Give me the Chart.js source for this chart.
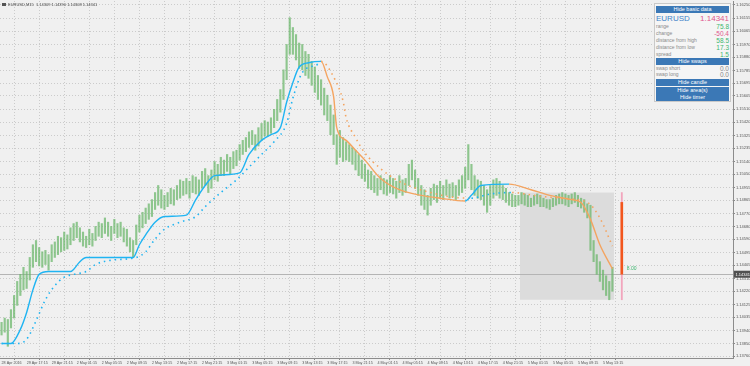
<!DOCTYPE html>
<html>
<head>
<meta charset="utf-8">
<script src="https://cdn.jsdelivr.net/npm/chart.js@4.4.1/dist/chart.umd.min.js"></script>
<style>
  html, body { margin: 0; padding: 0; background: #f0f0f0; }
  #wrap { position: relative; width: 750px; height: 366px; overflow: hidden; font-family: "Liberation Sans", Arial, sans-serif; }
  #chart { position: absolute; left: 0; top: 0; }
  #title { position: absolute; left: 2px; top: 1.5px; font-size: 4px; color: #444; white-space: nowrap; }
  #title b { display: inline-block; width: 4px; height: 3px; background: #555; margin-right: 2px; vertical-align: middle; }
  #panel { position: absolute; left: 654px; top: 3px; width: 77px; height: 99px; box-sizing: border-box; background: #f5f5f5; border: 1px solid #c9c9c9; }
  .btn { position: absolute; left: 1px; width: 73px; height: 7px; background: #3b78b6; color: #fff; font-size: 5.5px; line-height: 7px; text-align: center; }
  .row { position: absolute; left: 1px; width: 73px; height: 7px; font-size: 5px; line-height: 7px; color: #8a8a8a; }
  .row span { position: absolute; right: 0; top: 0; font-size: 6.5px; }
  .big { height: 9px; line-height: 9px; }
  .big em { font-style: normal; font-size: 8px; color: #3f83c9; }
  .big span { font-size: 8px; color: #e0568c; }
  .g { color: #3cb66e; }
  .p { color: #e0568c; }
  .n { color: #888; }
</style>
</head>
<body>
<div id="wrap">
  <canvas id="chart" width="750" height="366"></canvas>
  <div id="title"><b></b>EURUSD,M15&nbsp; 1.14309 1.14390 1.14308 1.14341</div>
  <div id="panel">
    <div class="btn" style="top:2px">Hide basic data</div>
    <div class="row big" style="top:10px"><em>EURUSD</em><span>1.14341</span></div>
    <div class="row" style="top:19px">range<span class="g">75.8</span></div>
    <div class="row" style="top:26px">change<span class="p">-50.4</span></div>
    <div class="row" style="top:33px">distance from high<span class="g">58.5</span></div>
    <div class="row" style="top:40px">distance from low<span class="g">17.3</span></div>
    <div class="row" style="top:47px">spread<span class="g">1.5</span></div>
    <div class="btn" style="top:54px">Hide swaps</div>
    <div class="row" style="top:61px">swap short<span class="n">0.0</span></div>
    <div class="row" style="top:67px">swap long<span class="n">0.0</span></div>
    <div class="btn" style="top:75px">Hide candle</div>
    <div class="btn" style="top:82.5px">Hide area(s)</div>
    <div class="btn" style="top:90px">Hide timer</div>
  </div>
</div>
<script>
// time axis labels, one every 8 bars (each bar here = 30 minutes)
const timeLabels = ['28 Apr 2016', '29 Apr 17:15', '29 Apr 21:15', '2 May 01:15', '2 May 05:15', '2 May 09:15',
  '2 May 13:15', '2 May 17:15', '2 May 21:15', '3 May 01:15', '3 May 05:15', '3 May 09:15', '3 May 13:15',
  '3 May 17:15', '3 May 21:15', '4 May 01:15', '4 May 05:15', '4 May 09:15', '4 May 13:15', '4 May 17:15',
  '4 May 21:15', '5 May 01:15', '5 May 05:15', '5 May 09:15', '5 May 13:15'];
const labelStep = 8;
const slots = 234;

const priceTicks = [1.16250, 1.16155, 1.16065, 1.15970, 1.15880, 1.15785, 1.15695, 1.15605, 1.15510, 1.15420,
  1.15325, 1.15235, 1.15140, 1.15050, 1.14955, 1.14865, 1.14770, 1.14680, 1.14590, 1.14495, 1.14405, 1.14310,
  1.14220, 1.14125, 1.14035, 1.13940, 1.13850, 1.13760];

const highs = [
  1.1400, 1.1403, 1.1402, 1.1409, 1.1419, 1.1429, 1.1434, 1.1439, 1.1436, 1.1446,
  1.1455, 1.1458, 1.1453, 1.1450, 1.1451, 1.1448, 1.1455, 1.1457, 1.1461, 1.1460,
  1.1464, 1.1462,
  1.1467, 1.1470, 1.1471, 1.1467, 1.1464, 1.1461, 1.1466, 1.1463, 1.1468,
  1.1471, 1.1470, 1.1474, 1.1471, 1.1468, 1.1473, 1.1470, 1.1471, 1.1467, 1.1466,
  1.1460, 1.1458, 1.1469, 1.1476, 1.1478, 1.1481, 1.1484, 1.1487, 1.1492, 1.1497,
  1.1494, 1.1490, 1.1492, 1.1495, 1.1494, 1.1497, 1.1501, 1.1500, 1.1502, 1.1500,
  1.1504, 1.1503,
  1.1501, 1.1507, 1.1509, 1.1504, 1.1508, 1.1514, 1.1512, 1.1517, 1.1515,
  1.1519, 1.1517, 1.1521, 1.1522, 1.1526, 1.1529, 1.1531, 1.1535, 1.1536, 1.1533,
  1.1538, 1.1541, 1.1543, 1.1542, 1.1545, 1.1551, 1.1558, 1.1565, 1.1579, 1.1597,
  1.1616, 1.1609, 1.1604, 1.1598, 1.1597, 1.1592, 1.1590, 1.1585, 1.1581, 1.1575,
  1.1572, 1.1566,
  1.1561, 1.1554, 1.1547, 1.1533, 1.1536, 1.1531, 1.1528, 1.1526, 1.1524,
  1.1522, 1.1519, 1.1515, 1.1512, 1.1508, 1.1507, 1.1504, 1.1502, 1.1504, 1.1502,
  1.1501, 1.1504, 1.1502, 1.1500, 1.1504, 1.1501, 1.1502, 1.1512, 1.1515, 1.1508,
  1.1502, 1.1497, 1.1494, 1.1490, 1.1495, 1.1498, 1.1497, 1.1500, 1.1497, 1.1501,
  1.1498, 1.1499,
  1.1497, 1.1501, 1.1504, 1.1510, 1.1526, 1.1512, 1.1504, 1.1501, 1.1500,
  1.1497, 1.1494, 1.1497, 1.1501, 1.1502, 1.1500, 1.1497, 1.1495, 1.1492, 1.1491,
  1.1490, 1.1490, 1.1492, 1.1491, 1.1490, 1.1488, 1.1490, 1.1491, 1.1490, 1.1488,
  1.1487, 1.1487, 1.1488, 1.1490, 1.1491, 1.1492, 1.1491,
  1.1490, 1.1491, 1.1492, 1.1490,
  1.1488, 1.1487, 1.1484, 1.1483, 1.1458, 1.1448, 1.1443, 1.1437, 1.1433, 1.1429, 1.1439
];
const lows = [
  1.1391, 1.1393, 1.1383, 1.1396, 1.1403, 1.1412, 1.1419, 1.1423, 1.1424, 1.1430,
  1.1439, 1.1443, 1.1440, 1.1439, 1.1441, 1.1437, 1.1443, 1.1446, 1.1448, 1.1450,
  1.1451, 1.1452,
  1.1455, 1.1458, 1.1460, 1.1457, 1.1454, 1.1453, 1.1455, 1.1454, 1.1458,
  1.1461, 1.1460, 1.1463, 1.1461, 1.1458, 1.1463, 1.1460, 1.1461, 1.1457, 1.1454,
  1.1450, 1.1446, 1.1455, 1.1464, 1.1467, 1.1470, 1.1473, 1.1475, 1.1480, 1.1483,
  1.1481, 1.1480, 1.1482, 1.1484, 1.1483, 1.1487, 1.1488, 1.1490, 1.1491, 1.1488,
  1.1492, 1.1491,
  1.1490, 1.1495, 1.1497, 1.1492, 1.1495, 1.1501, 1.1500, 1.1504, 1.1504,
  1.1507, 1.1505, 1.1509, 1.1511, 1.1515, 1.1519, 1.1521, 1.1524, 1.1526, 1.1522,
  1.1525, 1.1529, 1.1532, 1.1532, 1.1534, 1.1538, 1.1543, 1.1549, 1.1558, 1.1572,
  1.1590, 1.1590, 1.1586, 1.1580, 1.1579, 1.1575, 1.1573, 1.1568, 1.1563, 1.1558,
  1.1554, 1.1547,
  1.1543, 1.1533, 1.1526, 1.1512, 1.1517, 1.1514, 1.1515, 1.1514, 1.1512,
  1.1508, 1.1504, 1.1502, 1.1500, 1.1495, 1.1494, 1.1492, 1.1490, 1.1494, 1.1491,
  1.1490, 1.1492, 1.1491, 1.1488, 1.1492, 1.1490, 1.1492, 1.1497, 1.1501, 1.1495,
  1.1490, 1.1483, 1.1480, 1.1476, 1.1483, 1.1487, 1.1485, 1.1488, 1.1487, 1.1490,
  1.1488, 1.1489,
  1.1487, 1.1490, 1.1492, 1.1495, 1.1501, 1.1494, 1.1490, 1.1488, 1.1487,
  1.1483, 1.1478, 1.1483, 1.1488, 1.1490, 1.1488, 1.1487, 1.1485, 1.1483, 1.1482,
  1.1482, 1.1483, 1.1484, 1.1483, 1.1482, 1.1482, 1.1483, 1.1484, 1.1482, 1.1482,
  1.1481, 1.1480, 1.1482, 1.1483, 1.1484, 1.1484, 1.1483,
  1.1482, 1.1484, 1.1485, 1.1482,
  1.1481, 1.1478, 1.1474, 1.1451, 1.1443, 1.1434, 1.1429, 1.1423, 1.1419, 1.1416, 1.1422
];
const lastClose = 1.14341;

// smoothed trend line (solid) and its slower twin (dotted): bar index -> price
const fastIdx = [0, 3, 6, 8, 10, 12, 15, 22, 25, 27, 42, 44, 46, 49, 52, 59, 62, 65, 68, 76, 79, 83, 86, 89,
  91, 93, 95, 98, 102, 104, 106, 107, 110, 113, 116, 121, 127, 134, 140, 148, 150, 153, 162, 169, 175, 182,
  185, 188, 191, 195];
const fastVal = [1.1385, 1.1385, 1.1395, 1.1407, 1.1423, 1.1434, 1.1436, 1.1436, 1.1443, 1.1446, 1.1446, 1.1455,
  1.1462, 1.1471, 1.1475, 1.1476, 1.1487, 1.1497, 1.1504, 1.1506, 1.1519, 1.1529, 1.1533, 1.1538,
  1.1556, 1.1570, 1.1581, 1.1584, 1.1585, 1.1574, 1.1560, 1.1538, 1.1529, 1.1522, 1.1515, 1.1502, 1.1494,
  1.1490, 1.1488, 1.1486, 1.1490, 1.1497, 1.1498, 1.1494, 1.1490, 1.1487,
  1.1485, 1.1473, 1.1455, 1.1438];
const slowIdx = [0, 5, 8, 11, 14, 17, 20, 23, 27, 30, 35, 43, 46, 49, 52, 57, 62, 65, 70, 75, 79, 83, 87, 91,
  93, 96, 101, 102, 106, 109, 110, 113, 116, 121, 126, 131, 137, 143, 150, 156, 163, 170, 178, 187, 191, 195];
const slowVal = [1.1385, 1.1385, 1.1388, 1.1401, 1.1416, 1.1426, 1.1432, 1.1434, 1.1436, 1.1441, 1.1444, 1.1446,
  1.1450, 1.1459, 1.1466, 1.1471, 1.1475, 1.1482, 1.1492, 1.1501, 1.1510, 1.1519, 1.1528, 1.1541,
  1.1559, 1.1577, 1.1583, 1.1585, 1.1574, 1.1557, 1.1545, 1.1531, 1.1520, 1.1509, 1.1501, 1.1496, 1.1492,
  1.1489, 1.1488, 1.1491, 1.1492, 1.1490, 1.1488, 1.1485, 1.1474, 1.1454];

// range area and higher timeframe candle
const areaStart = 166;
const candleIndex = 198;
const candleOpen = 1.1485;
const areaText = '8.00';

const upColor = '#1fb4f2';
const downColor = '#f4a460';

const areaHigh = Math.max(...highs.slice(areaStart));
const areaLow = Math.min(...lows.slice(areaStart));

const overlay = {
  id: 'overlay',
  beforeDatasetsDraw(chart) {
    const { ctx, chartArea: a, scales: { x, y } } = chart;
    const half = (x.getPixelForValue(1) - x.getPixelForValue(0)) / 2;
    ctx.save();
    const x0 = x.getPixelForValue(areaStart) - half;
    const x1 = x.getPixelForValue(highs.length - 1) + half;
    const y0 = y.getPixelForValue(areaHigh);
    const y1 = y.getPixelForValue(areaLow);
    ctx.fillStyle = '#dcdcdc';
    ctx.fillRect(x0, y0, x1 - x0, y1 - y0);
    const yp = Math.round(y.getPixelForValue(lastClose)) + 0.5;
    ctx.strokeStyle = '#b4b4b4';
    ctx.lineWidth = 1;
    ctx.beginPath();
    ctx.moveTo(a.left, yp);
    ctx.lineTo(a.right, yp);
    ctx.stroke();
    ctx.restore();
  },
  afterDraw(chart) {
    const { ctx, chartArea: a, scales: { x, y } } = chart;
    ctx.save();
    ctx.font = '5px "Liberation Sans"';
    ctx.fillStyle = '#3cb66e';
    ctx.textBaseline = 'middle';
    ctx.fillText(areaText, x.getPixelForValue(candleIndex) + 5, y.getPixelForValue(lastClose) - 6);
    const yp = y.getPixelForValue(lastClose);
    ctx.fillStyle = '#505050';
    ctx.fillRect(a.right + 1, yp - 3.5, 17, 7);
    ctx.fillStyle = '#ffffff';
    ctx.font = '4px "Liberation Sans"';
    ctx.fillText(lastClose.toFixed(5), a.right + 2.5, yp + 0.3);
    ctx.restore();
  }
};

const bars = highs.map((h, i) => ({ x: i, y: [lows[i], h] }));
const fast = fastIdx.map((i, k) => ({ x: i, y: fastVal[k] }));
const slow = slowIdx.map((i, k) => ({ x: i, y: slowVal[k] }));
const trendColor = c => c.p1.parsed.y >= c.p0.parsed.y ? upColor : downColor;

new Chart(document.getElementById('chart'), {
  type: 'bar',
  data: {
    datasets: [
      { type: 'line', data: slow, borderWidth: 1.6, borderDash: [1.5, 4], pointRadius: 0,
        cubicInterpolationMode: 'monotone', segment: { borderColor: trendColor }, order: 1 },
      { type: 'line', data: fast, borderWidth: 1.4, pointRadius: 0,
        cubicInterpolationMode: 'monotone', segment: { borderColor: trendColor }, order: 0 },
      { data: bars, backgroundColor: 'rgba(104,182,104,0.72)', barThickness: 1.5, order: 2 },
      { data: [{ x: candleIndex, y: [areaLow, areaHigh] }], backgroundColor: '#f2a6bd', barThickness: 1.2, order: 3 },
      { data: [{ x: candleIndex, y: [lastClose, candleOpen] }], backgroundColor: '#f2561d', barThickness: 2, order: 2 }
    ]
  },
  options: {
    responsive: false,
    animation: false,
    devicePixelRatio: 1,
    grouped: false,
    layout: { padding: { top: 1, left: 0, right: 0, bottom: 0 } },
    plugins: { legend: { display: false }, tooltip: { enabled: false } },
    scales: {
      x: {
        type: 'linear',
        min: -0.5,
        max: slots - 0.5,
        offset: false,
        afterBuildTicks: s => { s.ticks = timeLabels.map((_, k) => ({ value: k * labelStep })); },
        afterFit: s => { s.height = 8; s.paddingLeft = 0; s.paddingRight = 0; },
        ticks: {
          autoSkip: false, maxRotation: 0, minRotation: 0, align: 'start', padding: 1,
          color: '#555', font: { size: 3.7, family: 'Liberation Sans' },
          callback: v => timeLabels[v / labelStep]
        },
        grid: { color: '#cbcbcb', tickLength: 2, tickColor: '#888' },
        border: { color: '#8c8c8c', dash: [1, 2] }
      },
      y: {
        position: 'right',
        min: 1.13747,
        max: 1.16278,
        afterBuildTicks: s => { s.ticks = priceTicks.map(v => ({ value: v })); },
        afterFit: s => { s.width = 17; s.paddingTop = 0; s.paddingBottom = 0; },
        ticks: {
          padding: 1, color: '#555', font: { size: 4, family: 'Liberation Sans' },
          callback: v => v.toFixed(5)
        },
        grid: { color: '#cbcbcb', tickLength: 2, tickColor: '#888' },
        border: { color: '#8c8c8c', dash: [1, 2] }
      }
    }
  },
  plugins: [overlay]
});
</script>
</body>
</html>
